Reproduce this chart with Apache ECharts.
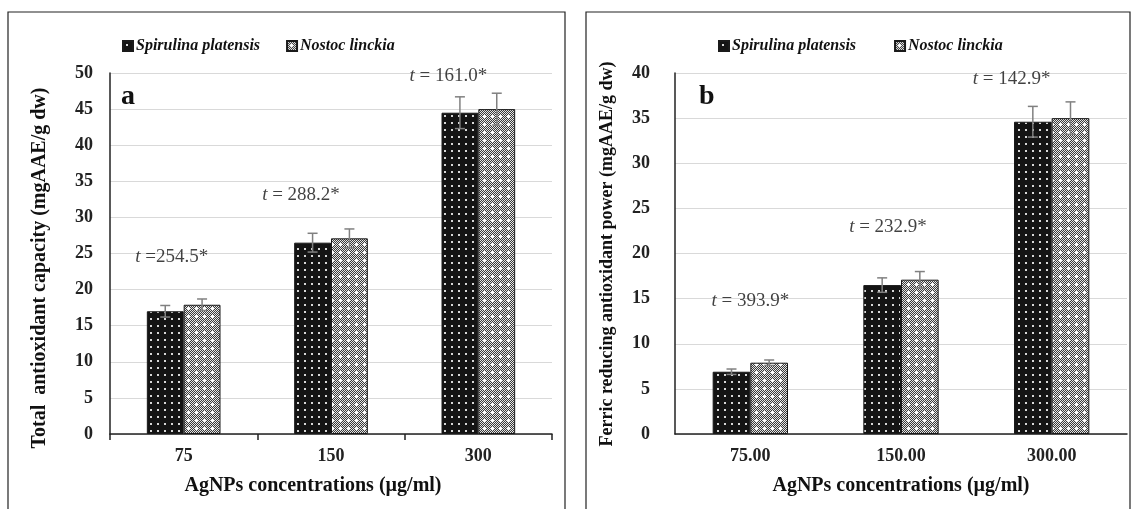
<!DOCTYPE html>
<html>
<head>
<meta charset="utf-8">
<script src="https://cdn.jsdelivr.net/npm/echarts@6/dist/echarts.min.js"></script>
<style>
  html, body { margin: 0; padding: 0; background: #fff; }
  #chart { width: 1132px; height: 509px; }
</style>
</head>
<body>
<div id="chart"></div>
<script>
// panel a: total antioxidant capacity
var catsA = ['75', '150', '300'];
var spA = [17.0, 26.5, 44.5];
var spAErr = [0.8, 1.3, 2.2];
var noA = [17.9, 27.1, 45.0];
var noAErr = [0.8, 1.3, 2.2];
var tA = [' =254.5*', ' = 288.2*', ' = 161.0*'];
var tAPos = [24.5, 33.1, 49.6];
var tAShift = [-12, -30, -30];

// panel b: ferric reducing antioxidant power
var catsB = ['75.00', '150.00', '300.00'];
var spB = [6.9, 16.5, 34.6];
var spBErr = [0.3, 0.8, 1.7];
var noB = [7.9, 17.1, 35.0];
var noBErr = [0.3, 0.9, 1.8];
var tB = [' = 393.9*', ' = 232.9*', ' = 142.9*'];
var tBPos = [14.7, 22.9, 39.3];
var tBShift = [0, -13, -40];

var serif = '"Liberation Serif", "DejaVu Serif", serif';

// fill patterns
function dotPattern() {
  var c = document.createElement('canvas');
  c.width = 7; c.height = 7;
  var ctx = c.getContext('2d');
  ctx.fillStyle = '#141414';
  ctx.fillRect(0, 0, 7, 7);
  ctx.fillStyle = '#d8d8d8';
  ctx.fillRect(3, 3, 2, 2);
  return c;
}
function checkPattern() {
  var c = document.createElement('canvas');
  c.width = 8; c.height = 8;
  var ctx = c.getContext('2d');
  for (var x = 0; x < 8; x++) {
    for (var y = 0; y < 8; y++) {
      ctx.fillStyle = (x + y) % 2 ? '#3a3a3a' : '#e6e6e6';
      ctx.fillRect(x, y, 1, 1);
    }
  }
  ctx.fillStyle = '#ffffff';
  ctx.fillRect(4, 3, 1, 3);
  ctx.fillRect(3, 4, 3, 1);
  return c;
}
var spFill = { image: dotPattern(), repeat: 'repeat' };
var noFill = { image: checkPattern(), repeat: 'repeat' };

function errSeries(gi, vals, errs, side) {
  return {
    type: 'custom',
    xAxisIndex: gi, yAxisIndex: gi,
    silent: true, z: 5,
    data: vals.map(function (v, i) { return [i, v, errs[i]]; }),
    renderItem: function (params, api) {
      var band = api.size([1, 0])[0];
      var x = api.coord([api.value(0), 0])[0] + side * band * 0.125;
      var hi = api.coord([api.value(0), api.value(1) + api.value(2)])[1];
      var lo = api.coord([api.value(0), api.value(1) - api.value(2)])[1];
      var st = { stroke: '#808080', lineWidth: 1.5 };
      return {
        type: 'group',
        children: [
          { type: 'line', shape: { x1: x, y1: hi, x2: x, y2: lo }, style: st },
          { type: 'line', shape: { x1: x - 5, y1: hi, x2: x + 5, y2: hi }, style: st },
          { type: 'line', shape: { x1: x - 5, y1: lo, x2: x + 5, y2: lo }, style: st }
        ]
      };
    }
  };
}

function noteSeries(gi, pos, texts, shifts) {
  return {
    type: 'scatter',
    xAxisIndex: gi, yAxisIndex: gi,
    symbolSize: 0, silent: true,
    data: pos.map(function (v, i) {
      return { value: [i, v], label: { offset: [shifts[i], 0] } };
    }),
    label: {
      show: true, position: 'inside',
      formatter: function (p) { return '{i|t}{n|' + texts[p.dataIndex] + '}'; },
      rich: {
        i: { fontFamily: serif, fontStyle: 'italic', fontSize: 19, color: '#111' },
        n: { fontFamily: serif, fontSize: 19, color: '#111' }
      }
    }
  };
}

function barSeries(name, gi, vals, fill) {
  return {
    name: name, type: 'bar',
    xAxisIndex: gi, yAxisIndex: gi,
    data: vals,
    barGap: '0%', barCategoryGap: '50%',
    itemStyle: { color: fill, borderColor: '#1a1a1a', borderWidth: 1 }
  };
}

var tickLabel = { fontFamily: serif, fontWeight: 'bold', fontSize: 18, color: '#222' };
var legendText = { fontFamily: serif, fontWeight: 'bold', fontStyle: 'italic', fontSize: 16, color: '#111', padding: [0, 0, 0, -2] };

var option = {
  animation: false,
  backgroundColor: '#fff',
  graphic: [
    { type: 'rect', shape: { x: 8, y: 12, width: 557, height: 520 }, style: { fill: 'none', stroke: '#222', lineWidth: 1.2 } },
    { type: 'rect', shape: { x: 586, y: 12, width: 544, height: 520 }, style: { fill: 'none', stroke: '#222', lineWidth: 1.2 } },
    { type: 'text', left: 121, top: 83, style: { text: 'a', font: 'bold 28px ' + serif, fill: '#111' } },
    { type: 'text', left: 699, top: 83, style: { text: 'b', font: 'bold 28px ' + serif, fill: '#111' } },
    { type: 'text', x: 40, y: 268, rotation: Math.PI / 2,
      style: { text: 'Total  antioxidant capacity (mgAAE/g dw)', font: 'bold 20px ' + serif, fill: '#111',
        align: 'center', verticalAlign: 'middle' } },
    { type: 'text', x: 607, y: 254, rotation: Math.PI / 2,
      style: { text: 'Ferric reducing antioxidant power (mgAAE/g dw)', font: 'bold 18px ' + serif, fill: '#111',
        align: 'center', verticalAlign: 'middle' } }
  ],
  legend: [
    { left: 117, top: 33, itemWidth: 10, itemHeight: 10, itemGap: 26, icon: 'rect',
      data: ['Spirulina platensis', 'Nostoc linckia'], textStyle: legendText },
    { left: 713, top: 33, itemWidth: 10, itemHeight: 10, itemGap: 38, icon: 'rect',
      data: ['Spirulina platensis', 'Nostoc linckia'], textStyle: legendText }
  ],
  grid: [
    { left: 110, top: 73, right: 580, bottom: 75 },
    { left: 675, top: 73, right: 5, bottom: 75 }
  ],
  xAxis: [
    { type: 'category', gridIndex: 0, data: catsA,
      axisLine: { lineStyle: { color: '#222', width: 1.5 } },
      axisTick: { show: true, length: 6, lineStyle: { color: '#222', width: 1.5 } },
      axisLabel: Object.assign({ margin: 13 }, tickLabel),
      name: 'AgNPs concentrations (µg/ml)', nameLocation: 'middle', nameGap: 42,
      nameTextStyle: { fontFamily: serif, fontWeight: 'bold', fontSize: 20, color: '#111', padding: [0, 36, 0, 0] } },
    { type: 'category', gridIndex: 1, data: catsB,
      axisLine: { lineStyle: { color: '#222', width: 1.5 } },
      axisTick: { show: false },
      axisLabel: Object.assign({ margin: 13 }, tickLabel),
      name: 'AgNPs concentrations (µg/ml)', nameLocation: 'middle', nameGap: 42,
      nameTextStyle: { fontFamily: serif, fontWeight: 'bold', fontSize: 20, color: '#111' } }
  ],
  yAxis: [
    { type: 'value', gridIndex: 0, min: 0, max: 50, interval: 5,
      axisLine: { show: true, lineStyle: { color: '#222', width: 1.5 } },
      axisTick: { show: false },
      splitLine: { lineStyle: { color: '#d9d9d9', width: 1.2 } },
      axisLabel: Object.assign({ margin: 17 }, tickLabel) },
    { type: 'value', gridIndex: 1, min: 0, max: 40, interval: 5,
      axisLine: { show: true, lineStyle: { color: '#222', width: 1.5 } },
      axisTick: { show: false },
      splitLine: { lineStyle: { color: '#d9d9d9', width: 1.2 } },
      axisLabel: Object.assign({ margin: 25 }, tickLabel) }
  ],
  series: [
    barSeries('Spirulina platensis', 0, spA, spFill),
    barSeries('Nostoc linckia', 0, noA, noFill),
    barSeries('Spirulina platensis', 1, spB, spFill),
    barSeries('Nostoc linckia', 1, noB, noFill),
    errSeries(0, spA, spAErr, -1),
    errSeries(0, noA, noAErr, 1),
    errSeries(1, spB, spBErr, -1),
    errSeries(1, noB, noBErr, 1),
    noteSeries(0, tAPos, tA, tAShift),
    noteSeries(1, tBPos, tB, tBShift)
  ]
};

var chart = echarts.init(document.getElementById('chart'));
chart.setOption(option);
</script>
</body>
</html>
